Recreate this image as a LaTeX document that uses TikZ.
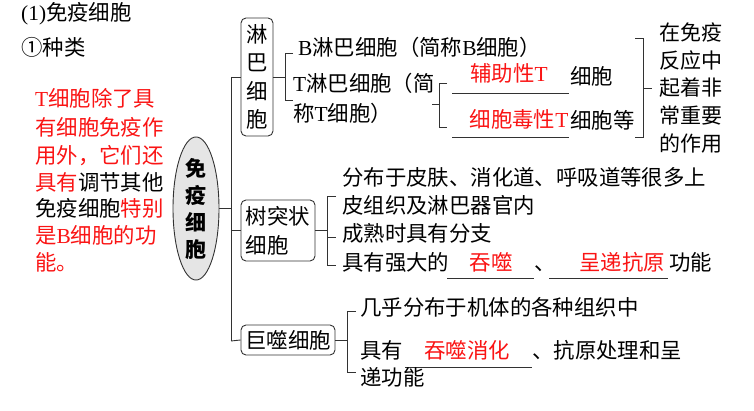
\documentclass[tikz,border=0pt]{standalone}
\usepackage{fontspec}
\setmainfont{Noto Sans CJK SC}
\newfontfamily\lat{Liberation Serif}
\newcommand{\Lt}[1]{{\lat #1}}
\usetikzlibrary{shapes.geometric}
\definecolor{myred}{RGB}{250,20,20}
\definecolor{lncol}{RGB}{50,50,50}
\begin{document}
\begin{tikzpicture}[x=1pt,y=-1pt,
  txt/.style={anchor=west, inner sep=0pt, font=\fontsize{21.4}{27}\selectfont, text height=0.88em, text depth=0.12em},
  rtxt/.style={txt, anchor=center, text=myred},
  ln/.style={line width=0.9pt, draw=lncol},
  ul/.style={line width=0.8pt, draw=lncol},
  rbox/.style={draw=lncol, line width=0.9pt, rounded corners=5pt, inner sep=0pt, font=\fontsize{21.4}{27}\selectfont},
]
\useasboundingbox (0,0) rectangle (754,411);

% titles
\node[txt] (t1) at (21,17) {\Lt{(1)}免疫细胞};
\node[txt] (t2) at (21,52) {①种类};

% red paragraph
\node[txt, text=myred] (p1) at (35,103) {\Lt{T}细胞除了具};
\node[txt, text=myred] (p2) at (35,132) {有细胞免疫作};
\node[txt, text=myred] (p3) at (35,160) {用外，它们还};
\node[txt] (p4) at (35,187) {\textcolor{myred}{具有}调节其他};
\node[txt] (p5) at (35,213) {免疫细胞\textcolor{myred}{特别}};
\node[txt, text=myred] (p6) at (35,240) {是\Lt{B}细胞的功};
\node[txt, text=myred] (p7) at (35,267) {能。};

% central ellipse
\node[ellipse, draw=lncol, line width=0.9pt, fill=black!10, minimum width=46pt, minimum height=137pt, inner sep=0pt,
      align=center, font=\fontsize{21}{27}\selectfont\bfseries] (e) at (196,208.5) {免\\疫\\细\\胞};

% trunk
\coordinate (ttop) at (231,77);
\coordinate (tbot) at (231,341);
\draw[ln] (ttop) -- (tbot);
\draw[ln] (e.east) -- (e.east -| ttop);

% ---- lymphocytes
\node[rbox, minimum width=32pt, minimum height=118pt, align=center, font=\fontsize{21.4}{28.5}\selectfont] (lym) at (257,77) {淋\\巴\\细\\胞};
\draw[ln] (ttop) -- (lym.west);
\coordinate (b1) at (285,77);
\draw[ln] (lym.east) -- (b1);
\draw[ln] (293,53) -- (285,53) -- (285,100) -- (293,100);
\node[txt] (bcell) at (298,52) {\Lt{B}淋巴细胞（简称\Lt{B}细胞）};
\node[txt] (tcell1) at (293,88) {\Lt{T}淋巴细胞（简};
\node[txt] (tcell2) at (293,118) {称\Lt{T}细胞）};
\coordinate (b2) at (439,104);
\draw[ln] (432,104) -- (b2);
\draw[ln] (447,83) -- (439,83) -- (439,127) -- (447,127);
\draw[ul] (452,93) -- (569,93);
\node[rtxt] (help) at (509,78) {辅助性\Lt{T}};
\node[txt] (help2) at (570,81) {细胞};
\draw[ul] (452,137) -- (569,137);
\node[rtxt] (cyto) at (519,124) {细胞毒性\Lt{T}};
\node[txt] (cyto2) at (570,125) {细胞等};
\draw[ln] (635,38) -- (643,38) -- (643,137) -- (635,137);
\coordinate (b3) at (652,88);
\draw[ln] (643,88) -- (b3);
\node[anchor=west, inner sep=0pt, align=left, font=\fontsize{21}{27.7}\selectfont] (role) at (659,88)
  {在免疫\\反应中\\起着非\\常重要\\的作用};

% ---- dendritic cells
\node[rbox, minimum width=74pt, minimum height=61pt, align=left, font=\fontsize{21.4}{29}\selectfont] (den) at (278,230.5) {树突状\\细胞};
\draw[ln] (den.west -| ttop) -- (den.west);
\coordinate (b4) at (327,230.5);
\draw[ln] (den.east) -- (b4);
\draw[ln] (336,196) -- (327,196) -- (327,265) -- (336,265);
\draw[ln] (327,237) -- (336,237);
\node[txt] (d1) at (342,182) {分布于皮肤、消化道、呼吸道等很多上};
\node[txt] (d2) at (342,210) {皮组织及淋巴器官内};
\node[txt] (d3) at (342,238) {成熟时具有分支};
\node[txt] (d4) at (342,267) {具有强大的};
\draw[ul] (447,278) -- (534,278);
\node[rtxt] (d5) at (491,267) {吞噬};
\node[txt] (d6) at (534,267) {、};
\draw[ul] (549,278) -- (668,278);
\node[rtxt] (d7) at (622,267) {呈递抗原};
\node[txt] (d8) at (669,267) {功能};

% ---- macrophages
\node[rbox, minimum width=94pt, minimum height=30pt] (mac) at (288,340) {巨噬细胞};
\draw[ln] (tbot) -- (mac.west);
\coordinate (b5) at (347,340);
\draw[ln] (mac.east) -- (b5);
\draw[ln] (356,311) -- (347,311) -- (347,372) -- (356,372);
\node[txt] (m1) at (360,312) {几乎分布于机体的各种组织中};
\node[txt] (m2) at (360,355) {具有};
\draw[ul] (405,367) -- (532,367);
\node[rtxt] (m3) at (467,355) {吞噬消化};
\node[txt] (m4) at (532,355) {、抗原处理和呈};
\node[txt] (m5) at (360,382) {递功能};
\end{tikzpicture}
\end{document}
